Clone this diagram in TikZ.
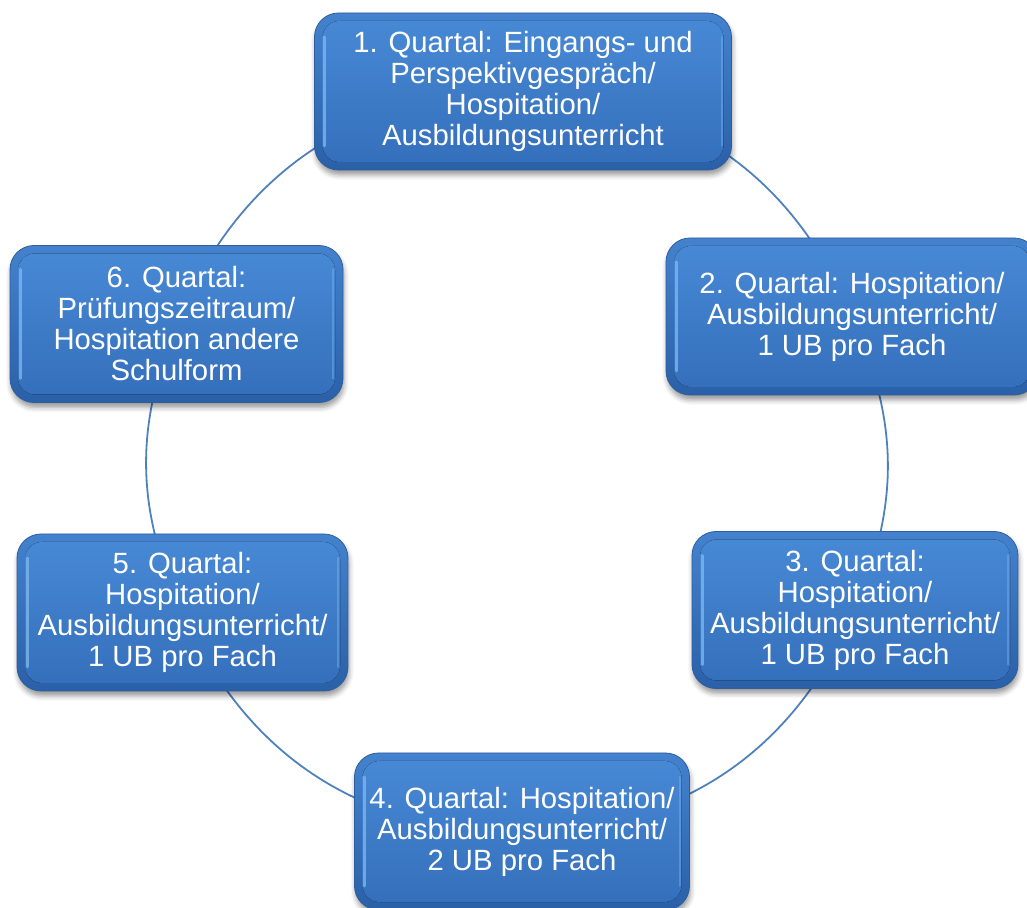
\documentclass[tikz,border=0pt]{standalone}
\usepackage{fontspec}
\setmainfont{Liberation Sans}
\usepackage{tikz}
\usetikzlibrary{backgrounds,shadows.blur}
\usepackage{xcolor}
\definecolor{rimtop}{RGB}{68,130,206}
\definecolor{rimbot}{RGB}{42,96,168}
\definecolor{rimdark}{RGB}{46,94,158}
\definecolor{platetop}{RGB}{72,138,214}
\definecolor{platebot}{RGB}{52,110,186}
\definecolor{edgelight}{RGB}{128,186,240}
\definecolor{ringblue}{RGB}{79,129,189}

\begin{document}
\begin{tikzpicture}[x=1pt,y=1pt,
  ring/.style={draw=ringblue,line width=1.8pt},
  qbox/.style={rounded corners=24pt,draw=rimdark,line width=.8pt,
              top color=rimtop,bottom color=rimbot,
              minimum width=#1,minimum height=157pt,inner sep=2pt,
              align=center,text=white,font=\fontsize{29.3pt}{31pt}\selectfont,
              blur shadow={shadow xshift=1pt,shadow yshift=-5pt,
                           shadow blur radius=5pt,shadow opacity=40},
              path picture={
                \fill[top color=platetop,bottom color=platebot,rounded corners=17pt]
                  ([shift={(8pt,8pt)}]path picture bounding box.south west) rectangle
                  ([shift={(-8pt,-8pt)}]path picture bounding box.north east);
                \draw[edgelight,line width=3pt,line cap=round,opacity=.75]
                  ([shift={(10pt,24pt)}]path picture bounding box.south west) --
                  ([shift={(10pt,-24pt)}]path picture bounding box.north west);
                \draw[edgelight,line width=2pt,line cap=round,opacity=.4]
                  ([shift={(-10pt,24pt)}]path picture bounding box.south east) --
                  ([shift={(-10pt,-24pt)}]path picture bounding box.north east);
              }}]
 \clip (0,0) rectangle (1027,907);
 \node[qbox=417pt] (q1) at (523,815.5) {1. Quartal: Eingangs- und\\Perspektivgespräch/\\Hospitation/\\Ausbildungsunterricht};
 \node[qbox=372pt] (q2) at (852,590.5) {2. Quartal: Hospitation/\\Ausbildungsunterricht/\\1 UB pro Fach};
 \node[qbox=326pt] (q3) at (855,297) {3. Quartal:\\Hospitation/\\Ausbildungsunterricht/\\1 UB pro Fach};
 \node[qbox=335pt] (q4) at (522,75.5) {4. Quartal: Hospitation/\\Ausbildungsunterricht/\\2 UB pro Fach};
 \node[qbox=331pt] (q5) at (182.5,294.5) {5. Quartal:\\Hospitation/\\Ausbildungsunterricht/\\1 UB pro Fach};
 \node[qbox=333pt] (q6) at (176.5,583) {6. Quartal:\\Prüfungszeitraum/\\Hospitation andere\\Schulform};
 % ring behind the boxes
 \begin{scope}[on background layer]
  \draw[ring] (q1.center) to[bend left=32.8] (q2.center);
  \draw[ring] (q2.center) to[bend left=23.5] (q3.center);
  \draw[ring] (q3.center) to[bend left=32.9] (q4.center);
  \draw[ring] (q4.center) to[bend left=33.3] (q5.center);
  \draw[ring] (q5.center) to[bend left=23.2] (q6.center);
  \draw[ring] (q6.center) to[bend left=34.3] (q1.center);
 \end{scope}
\end{tikzpicture}
\end{document}
